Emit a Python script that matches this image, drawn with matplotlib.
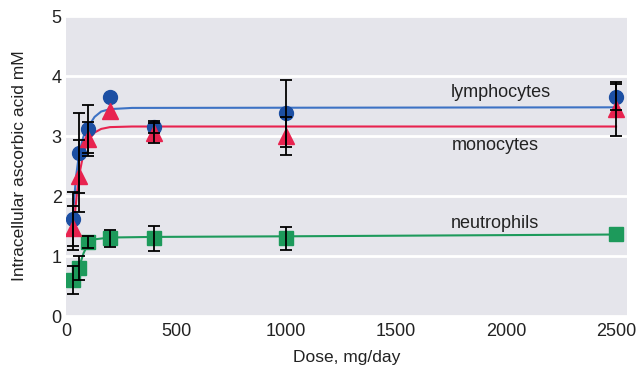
import numpy as np
import matplotlib
matplotlib.use("Agg")
import matplotlib.pyplot as plt

plt.rcParams['font.family'] = ['Liberation Sans', 'DejaVu Sans']

# measured points
dose = [30, 60, 100, 200, 400, 1000, 2500]

lymph = [1.62, 2.72, 3.12, 3.65, 3.15, 3.38, 3.65]
lymph_err = [0.45, 0.67, 0.40, 0.0, 0.10, 0.56, 0.22]

mono = [1.47, 2.33, 2.95, 3.42, 3.05, 3.00, 3.45]
mono_err = [0.37, 0.60, 0.28, 0.0, 0.17, 0.32, 0.45]

neut = [0.60, 0.80, 1.23, 1.30, 1.30, 1.30, 1.37]
neut_err = [0.23, 0.20, 0.10, 0.14, 0.21, 0.19, 0.0]

# fitted curves
lymph_fit_x = [30, 45, 60, 80, 100, 130, 160, 200, 300, 2500]
lymph_fit_y = [1.60, 2.30, 2.72, 3.00, 3.15, 3.32, 3.41, 3.45, 3.47, 3.48]
mono_fit_x = [35, 50, 60, 80, 100, 130, 160, 200, 300, 2500]
mono_fit_y = [1.50, 2.05, 2.35, 2.72, 2.92, 3.06, 3.12, 3.15, 3.16, 3.16]
neut_fit_x = [30, 60, 80, 100, 130, 200, 400, 1000, 2500]
neut_fit_y = [0.60, 0.82, 1.05, 1.20, 1.28, 1.31, 1.32, 1.33, 1.36]

blue = '#1c4fa3'
blue_line = '#3d72c4'
red = '#e8234f'
green = '#1d9a5b'
txt = '#222222'

fig = plt.figure(figsize=(6.38, 3.68), dpi=100)
ax = fig.add_axes([0.1034, 0.141, 0.8795, 0.8152])
ax.set_facecolor('#e5e5eb')
for s in ax.spines.values():
    s.set_visible(False)
ax.set_axisbelow(True)
ax.yaxis.grid(True, color='white', lw=2)

ax.plot(lymph_fit_x, lymph_fit_y, color=blue_line, lw=1.5, zorder=2)
ax.plot(mono_fit_x, mono_fit_y, color=red, lw=1.5, zorder=2)
ax.plot(neut_fit_x, neut_fit_y, color=green, lw=1.5, zorder=2)

ax.plot(dose, lymph, 'o', color=blue, ms=10, zorder=3)
ax.plot(dose, mono, '^', color=red, ms=12, zorder=4)
ax.plot(dose, neut, 's', color=green, ms=10, zorder=3)

for y, e in [(lymph, lymph_err), (mono, mono_err), (neut, neut_err)]:
    xs = [d for d, v in zip(dose, e) if v > 0]
    ys = [a for a, v in zip(y, e) if v > 0]
    es = [v for v in e if v > 0]
    ax.errorbar(xs, ys, yerr=es, fmt='none', ecolor='black', elinewidth=1.3,
                capsize=4, capthick=1.3, zorder=5)

ax.text(1975, 3.73, 'lymphocytes', ha='center', va='center', fontsize=13, color=txt)
ax.text(1950, 2.85, 'monocytes', ha='center', va='center', fontsize=13, color=txt)
ax.text(1950, 1.55, 'neutrophils', ha='center', va='center', fontsize=13, color=txt)

ax.set_xlim(0, 2550)
ax.set_ylim(0, 5)
ax.set_xticks([0, 500, 1000, 1500, 2000, 2500])
ax.set_yticks([0, 1, 2, 3, 4, 5])
ax.tick_params(length=0, labelsize=13, labelcolor=txt)
ax.tick_params(axis='x', pad=5)
ax.tick_params(axis='y', pad=3)
ax.set_xlabel('Dose, mg/day', fontsize=12.5, color=txt, labelpad=7)
ax.set_ylabel('Intracellular ascorbic acid mM', fontsize=12.5, color=txt, labelpad=18)

fig.savefig('out.png', dpi=100)
